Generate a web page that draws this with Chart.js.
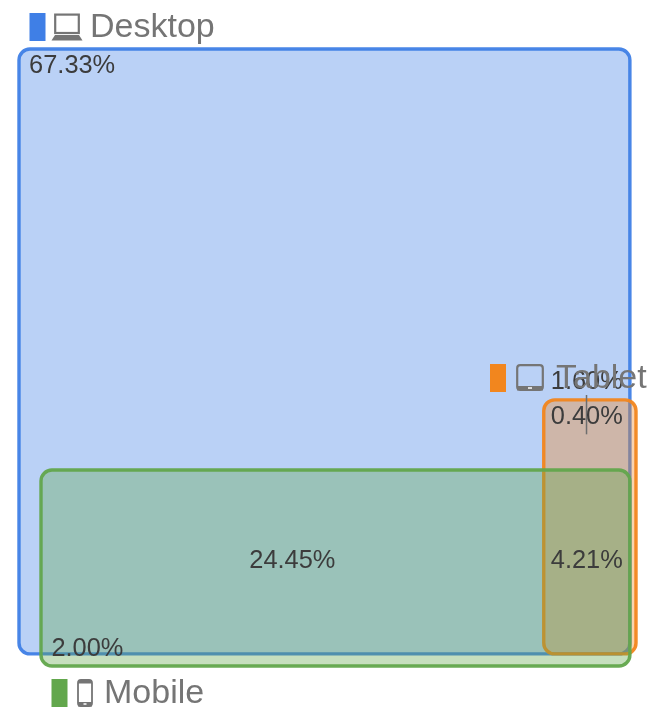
<!DOCTYPE html>
<html><head><meta charset="utf-8">
<style>html,body{margin:0;padding:0;background:#fff}canvas{display:block;filter:blur(0.5px)}</style>
<script src="https://cdn.jsdelivr.net/npm/chart.js@4"></script>
</head><body><canvas id="c" width="652" height="708"></canvas>
<script>
// Boxes in share units (Desktop box spans 0-100 on both axes)
const seriesNames = ['Desktop', 'Tablet', 'Mobile'];
const seriesColors = ['#3f7fe6', '#f2861e', '#62a74c'];
const boxX = [[0, 100], [85.9, 101], [3.6, 100]];
const boxY = [[0, 100], [0, 42], [-2, 30.4]];
const regionLabels = ['67.33%', '1.60%', '0.40%', '24.45%', '4.21%', '2.00%'];
const regionX = [1.65, 92.95, 92.95, 44.75, 92.95, 5.3];
const regionY = [97.15, 45.0, 39.15, 15.35, 15.35, 0.85];
const regionAlign = ['left', 'center', 'center', 'center', 'center', 'left'];
const leaderX = [92.9, 92.9];
const leaderY = [42.8, 36.3];

const font = '"Liberation Sans", Arial, sans-serif';

function hexA(hex, a) {
  const n = parseInt(hex.slice(1), 16);
  return `rgba(${n >> 16},${(n >> 8) & 255},${n & 255},${a})`;
}
function icon(ctx, kind, x, y) {
  ctx.save();
  ctx.fillStyle = '#757575'; ctx.strokeStyle = '#757575'; ctx.lineWidth = 2.2;
  if (kind === 'Desktop') {
    ctx.strokeRect(x + 3.2, y + 1.6, 23.6, 18.4);
    ctx.beginPath();
    ctx.moveTo(x + 3, y + 22); ctx.lineTo(x + 27, y + 22); ctx.lineTo(x + 30.5, y + 27.5); ctx.lineTo(x - 0.5, y + 27.5);
    ctx.closePath(); ctx.fill();
  } else if (kind === 'Tablet') {
    ctx.beginPath(); ctx.roundRect(x + 1.2, y + 1.2, 25.6, 24.6, 3); ctx.stroke();
    ctx.fillRect(x + 1, y + 22, 26, 4.5);
    ctx.fillStyle = '#dddddd'; ctx.fillRect(x + 12, y + 23, 4, 2);
  } else {
    ctx.lineWidth = 1.8;
    ctx.beginPath(); ctx.roundRect(x + 1, y + 1, 14, 26, 3); ctx.stroke();
    ctx.fillRect(x + 1, y + 1, 14, 3.5); ctx.fillRect(x + 1, y + 23, 14, 4.5);
    ctx.fillStyle = '#dddddd'; ctx.fillRect(x + 6.5, y + 24, 3, 2);
  }
  ctx.restore();
}
const legendPos = {
  Desktop: { sq: [29.5, 13], ic: [52, 13], tx: [90, 28] },
  Tablet: { sq: [490, 364], ic: [516, 364], tx: [556, 379] },
  Mobile: { sq: [51.5, 679], ic: [77, 679], tx: [104, 694] }
};

const boxes = {
  id: 'boxes',
  afterDatasetsDraw(chart) {
    const { ctx, scales: { x, y } } = chart;
    ctx.save();
    chart.data.datasets.forEach((ds, i) => {
      const pts = chart.getDatasetMeta(i).data;
      const x0 = pts[0].x, y0 = pts[0].y, x1 = pts[1].x, y1 = pts[1].y;
      ctx.beginPath();
      ctx.roundRect(x0, y1, x1 - x0, y0 - y1, 11);
      ctx.fillStyle = hexA(seriesColors[i], 0.36);
      ctx.fill();
      ctx.lineWidth = 3.4;
      ctx.strokeStyle = hexA(seriesColors[i], 0.95);
      ctx.stroke();
    });
    // leader line
    ctx.strokeStyle = '#6e6e6e'; ctx.lineWidth = 1.5;
    ctx.beginPath();
    ctx.moveTo(x.getPixelForValue(leaderX[0]), y.getPixelForValue(leaderY[0]));
    ctx.lineTo(x.getPixelForValue(leaderX[1]), y.getPixelForValue(leaderY[1]));
    ctx.stroke();
    // region values
    ctx.font = '25.4px ' + font; ctx.fillStyle = '#3c3c3c'; ctx.textBaseline = 'middle';
    regionLabels.forEach((t, i) => {
      ctx.textAlign = regionAlign[i];
      ctx.fillText(t, x.getPixelForValue(regionX[i]), y.getPixelForValue(regionY[i]));
    });
    // legends
    seriesNames.forEach((n, i) => {
      const p = legendPos[n];
      ctx.fillStyle = seriesColors[i];
      ctx.fillRect(p.sq[0], p.sq[1], 16, 28);
      icon(ctx, n, p.ic[0], p.ic[1]);
      ctx.fillStyle = '#757575'; ctx.textAlign = 'left'; ctx.font = '34px ' + font;
      ctx.fillText(n, p.tx[0], p.tx[1]);
    });
    ctx.restore();
  }
};

new Chart(document.getElementById('c'), {
  type: 'scatter',
  data: {
    datasets: seriesNames.map((n, i) => ({
      label: n,
      data: [{ x: boxX[i][0], y: boxY[i][0] }, { x: boxX[i][1], y: boxY[i][1] }],
      pointRadius: 0,
      showLine: false
    }))
  },
  options: {
    responsive: false, animation: false,
    layout: { padding: { left: 19, right: 16, top: 49, bottom: 42 } },
    plugins: { legend: { display: false }, tooltip: { enabled: false } },
    scales: {
      x: { type: 'linear', min: 0, max: 101, display: false },
      y: { type: 'linear', min: -2, max: 100, display: false }
    }
  },
  plugins: [boxes]
});
</script></body></html>
